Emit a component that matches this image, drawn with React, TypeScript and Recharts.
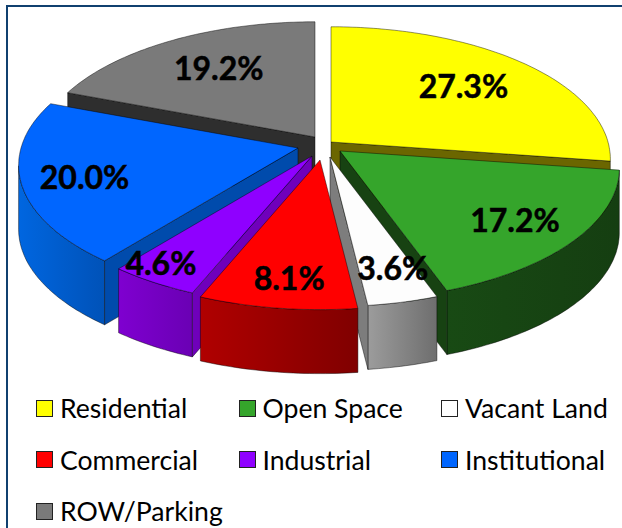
import React from 'react';
import { PieChart, Pie, Legend } from 'recharts';

const categories = ['Residential', 'Open Space', 'Vacant Land', 'Commercial', 'Industrial', 'Institutional', 'ROW/Parking'];
const shares = [27.3, 17.2, 3.6, 8.1, 4.6, 20.0, 19.2];

const topColors = ['#ffff00', '#35a52b', '#fdfdfd', '#ff0000', '#8f00ff', '#0066ff', '#7a7a7a'];
const swatchColors = ['#ffff00', '#35a52b', '#ffffff', '#ff0000', '#8f00ff', '#0066ff', '#7a7a7a'];
const wallFrom = ['#7a7400', '#184a14', '#9c9c9c', '#b00000', '#7f00d0', '#0066e0', '#333333'];
const wallTo = ['#6b6600', '#153e11', '#6e6e6e', '#800000', '#6a00b4', '#0052b8', '#333333'];
const cutColors = ['#6b6600', '#174212', '#7d7d7d', '#8b0000', '#6f00bb', '#004bac', '#2e2e2e'];
const explodeX = [13, 22, 12, 2, -6, -20, -3];
const explodeY = [-6, 3, 9, 12, 8, 0, -11];
const labelReach = [0.7, 0.76, 0.8, 0.79, 0.9, 0.77, 0.7];
const labelNudgeX = [-6, 1, 6, 2, -10, -2, 6];
const labelNudgeY = [0, 2, -2, 4, -6, 2, 0];
const paintOrder = [6, 0, 5, 1, 4, 2, 3];

const DEPTH = 64;
const TILT = 0.47;
const PERSPECTIVE = 0.13;
const FONT = 'Lato, Carlito, sans-serif';

const rows = categories.map((name, i) => ({ name, value: shares[i], fill: topColors[i] }));

type Pt = [number, number];

function Slice(props: any) {
  const { cx, cy, outerRadius: R, startAngle, endAngle, index } = props;
  const ax = cx + explodeX[index];
  const ay = cy + explodeY[index];
  const t1 = ((90 - startAngle) * Math.PI) / 180;
  const t2 = ((90 - endAngle) * Math.PI) / 180;
  const project = (t: number, r: number): Pt => {
    const u = Math.sin(t) * r;
    const v = -Math.cos(t) * r;
    const s = 1 / (1 - PERSPECTIVE * v);
    return [ax + R * u * s, ay + TILT * R * v * s];
  };
  const arc: Pt[] = [];
  const wallArc: Pt[] = [];
  const steps = Math.max(6, Math.ceil(((t2 - t1) * 180) / Math.PI));
  for (let k = 0; k <= steps; k++) {
    const t = t1 + ((t2 - t1) * k) / steps;
    const p = project(t, 1);
    arc.push(p);
    if (Math.cos(t) < -PERSPECTIVE) wallArc.push(p);
  }
  const path = (pts: Pt[]) => 'M' + pts.map((p) => `${p[0].toFixed(1)},${p[1].toFixed(1)}`).join('L') + 'Z';
  const down = (p: Pt): Pt => [p[0], p[1] + DEPTH];
  const apex: Pt = [ax, ay];
  const first = arc[0];
  const last = arc[arc.length - 1];
  const xs = arc.map((p) => p[0]);
  const gid = `wall-${index}`;
  const mid = (t1 + t2) / 2;
  const lp = project(mid, labelReach[index]);
  const edge = { stroke: '#000', strokeOpacity: 0.55, strokeWidth: 0.8, strokeLinejoin: 'round' as const };
  const firstVisible = -Math.sin(t1) > 0;
  const lastVisible = Math.sin(t2) > 0;
  return (
    <g>
      <defs>
        <linearGradient id={gid} gradientUnits="userSpaceOnUse" x1={Math.min(...xs)} x2={Math.max(...xs)} y1={0} y2={0}>
          <stop offset="0%" stopColor={wallFrom[index]} />
          <stop offset="100%" stopColor={wallTo[index]} />
        </linearGradient>
      </defs>
      {wallArc.length > 1 && <path d={path([...wallArc, ...wallArc.slice().reverse().map(down)])} fill={`url(#${gid})`} {...edge} />}
      {firstVisible && <path d={path([apex, first, down(first), down(apex)])} fill={cutColors[index]} {...edge} />}
      {lastVisible && <path d={path([apex, last, down(last), down(apex)])} fill={cutColors[index]} {...edge} />}
      <path d={path([apex, ...arc])} fill={topColors[index]} {...edge} />
      <text x={lp[0] + labelNudgeX[index]} y={lp[1] + labelNudgeY[index]} textAnchor="middle" dominantBaseline="central" fontFamily={FONT} fontWeight={700} fontSize={32} fill="#000" stroke="#000" strokeWidth={0.5}>
        {shares[index].toFixed(1)}%
      </text>
    </g>
  );
}

function LegendBlock() {
  return (
    <div style={{ position: 'relative', width: 622, height: 138 }}>
      {categories.map((name, i) => {
        const col = i % 3;
        const row = Math.floor(i / 3);
        return (
          <div key={name} style={{ position: 'absolute', left: 36 + col * 202.5, top: row * 51.5, height: 36, display: 'flex', alignItems: 'center', whiteSpace: 'nowrap' }}>
            <span style={{ width: 15, height: 15, background: swatchColors[i], border: '1px solid #222', display: 'inline-block', marginRight: 7 }} />
            <span style={{ fontFamily: FONT, fontSize: 26.6, color: '#000' }}>{name}</span>
          </div>
        );
      })}
    </div>
  );
}

export default function App() {
  return (
    <div style={{ position: 'absolute', left: 0, top: 0, width: 622, height: 528, background: '#fff', overflow: 'hidden' }}>
      <div style={{ position: 'absolute', left: 6, top: 5, width: 640, height: 560, borderLeft: '2px solid #10406f', borderTop: '2px solid #10406f', boxSizing: 'border-box' }} />
      <PieChart width={622} height={528} margin={{ top: 0, right: 0, bottom: 0, left: 0 }} style={{ position: 'absolute', left: 0, top: 0 }}>
        {paintOrder.map((sliceIndex) => (
          <Pie
            key={sliceIndex}
            data={rows}
            dataKey="value"
            nameKey="name"
            cx={318}
            cy={148}
            innerRadius={0}
            outerRadius={277}
            startAngle={90}
            endAngle={-270}
            stroke="none"
            labelLine={false}
            legendType="none"
            isAnimationActive={false}
            shape={(p: any) => (p.index === sliceIndex ? <Slice {...p} /> : <g />)}
          />
        ))}
        <Legend content={() => <LegendBlock />} wrapperStyle={{ position: 'absolute', left: 0, top: 390, width: 622, bottom: 'auto' }} />
      </PieChart>
    </div>
  );
}
